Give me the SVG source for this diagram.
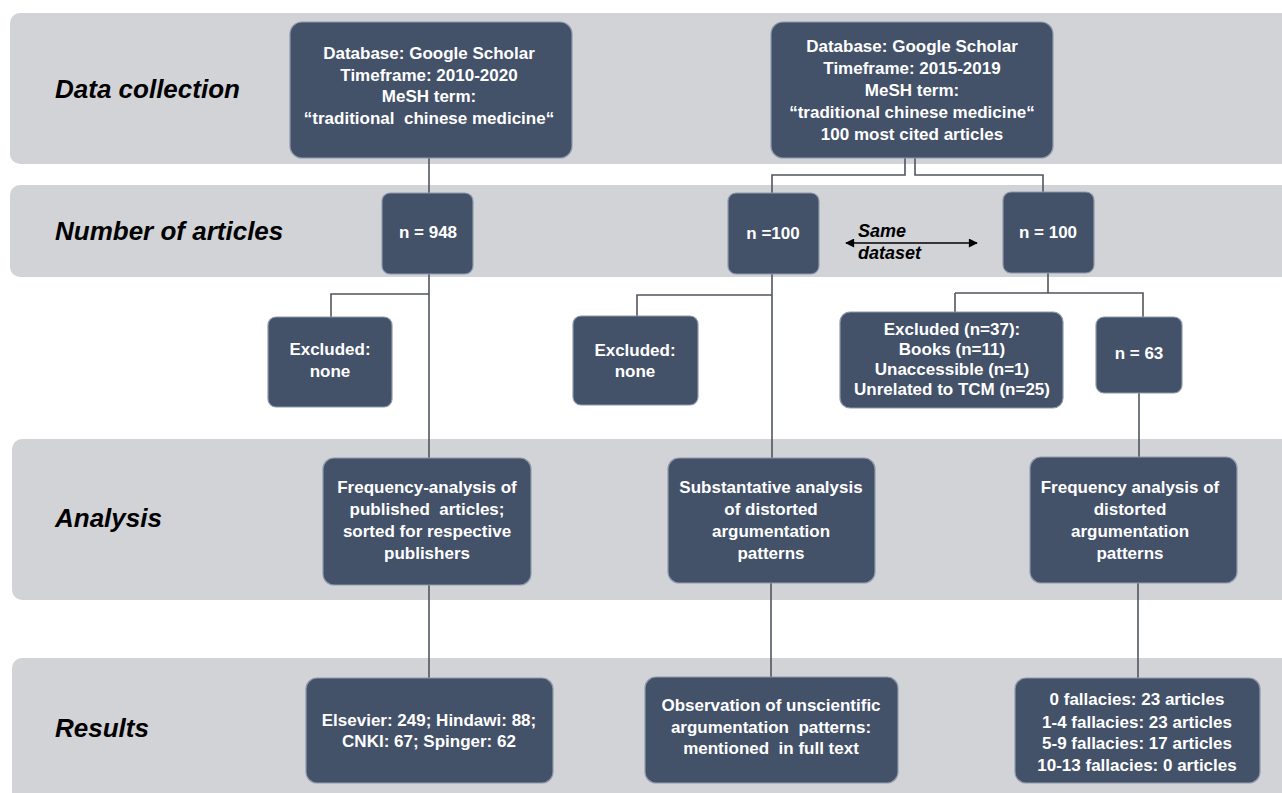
<svg xmlns="http://www.w3.org/2000/svg" width="1282" height="793" viewBox="0 0 1282 793">
<defs>
<style>
.band{fill:#d2d3d6}
.lab{font-family:"Liberation Sans",Arial,sans-serif;font-weight:bold;font-style:italic;font-size:26px;fill:#000}
.node rect{fill:#435169;stroke:#8e9aad;stroke-width:1.2}
.node text{font-family:"Liberation Sans",Arial,sans-serif;font-weight:bold;font-size:17px;fill:#fff;text-anchor:middle}
.con{fill:none;stroke:#50555e;stroke-width:1.6}
.arr{fill:none;stroke:#000;stroke-width:1.6}
.note{font-family:"Liberation Sans",Arial,sans-serif;font-weight:bold;font-style:italic;font-size:18px;fill:#000}
</style>
<marker id="ah" viewBox="0 0 10 10" refX="9" refY="5" markerWidth="10" markerHeight="9" orient="auto-start-reverse" markerUnits="userSpaceOnUse">
<path d="M0,0 L10,5 L0,10 z" fill="#000"/>
</marker>
</defs>
<rect width="1282" height="793" fill="#fff"/>
<g id="bands">
<rect class="band" x="10" y="13" width="1290" height="151" rx="10"/>
<rect class="band" x="10" y="185" width="1290" height="92" rx="10"/>
<rect class="band" x="12" y="439" width="1290" height="161" rx="10"/>
<rect class="band" x="12" y="658" width="1290" height="150" rx="10"/>
<text class="lab" x="55" y="98">Data collection</text>
<text class="lab" x="55" y="240">Number of articles</text>
<text class="lab" x="55" y="527">Analysis</text>
<text class="lab" x="55" y="737">Results</text>
</g>
<g id="connectors">
<path class="con" d="M429,158 V193"/>
<path class="con" d="M429,274 V458"/>
<path class="con" d="M429,294 H331 V317"/>
<path class="con" d="M429,585 V678"/>
<path class="con" d="M905,158 V175 H772 V193"/>
<path class="con" d="M915,158 V175 H1043 V192"/>
<path class="con" d="M772,274 V458"/>
<path class="con" d="M772,295 H637 V316"/>
<path class="con" d="M771,583 V677"/>
<path class="con" d="M1048,273 V293"/>
<path class="con" d="M955,293 H1143 V317"/>
<path class="con" d="M955,293 V312"/>
<path class="con" d="M1139,393 V457"/>
<path class="con" d="M1138,583 V678"/>
<path class="arr" d="M846,243 H977" marker-start="url(#ah)" marker-end="url(#ah)"/>
<text class="note" x="858" y="237">Same</text>
<text class="note" x="858" y="259">dataset</text>
</g>
<g id="db1" class="node">
<rect x="290" y="22" width="282" height="136" rx="12"/>
<text x="429" y="59">Database: Google Scholar</text>
<text x="429" y="81">Timeframe: 2010-2020</text>
<text x="429" y="102">MeSH term:</text>
<text x="429" y="124" xml:space="preserve">“traditional  chinese medicine“</text>
</g>
<g id="db2" class="node">
<rect x="771" y="22" width="282" height="136" rx="12"/>
<text x="912" y="52">Database: Google Scholar</text>
<text x="912" y="74">Timeframe: 2015-2019</text>
<text x="912" y="96">MeSH term:</text>
<text x="912" y="118">“traditional chinese medicine“</text>
<text x="912" y="140">100 most cited articles</text>
</g>
<g id="n948" class="node">
<rect x="382" y="193" width="91" height="81" rx="8"/>
<text x="428" y="238">n = 948</text>
</g>
<g id="n100a" class="node">
<rect x="728" y="193" width="91" height="81" rx="8"/>
<text x="773" y="239">n =100</text>
</g>
<g id="n100b" class="node">
<rect x="1003" y="192" width="91" height="81" rx="8"/>
<text x="1048" y="238">n = 100</text>
</g>
<g id="excl1" class="node">
<rect x="268" y="317" width="124" height="90" rx="8"/>
<text x="330" y="355">Excluded:</text>
<text x="330" y="377">none</text>
</g>
<g id="excl2" class="node">
<rect x="573" y="316" width="125" height="89" rx="8"/>
<text x="635" y="356">Excluded:</text>
<text x="635" y="377">none</text>
</g>
<g id="excl3" class="node">
<rect x="840" y="312" width="223" height="96" rx="10"/>
<text x="952" y="335">Excluded (n=37):</text>
<text x="952" y="355">Books (n=11)</text>
<text x="952" y="375">Unaccessible (n=1)</text>
<text x="952" y="395">Unrelated to TCM (n=25)</text>
</g>
<g id="n63" class="node">
<rect x="1096" y="317" width="86" height="76" rx="8"/>
<text x="1139" y="359">n = 63</text>
</g>
<g id="ana1" class="node">
<rect x="323" y="458" width="208" height="127" rx="11"/>
<text x="427" y="493">Frequency-analysis of</text>
<text x="427" y="515" xml:space="preserve">published  articles;</text>
<text x="427" y="537">sorted for respective</text>
<text x="427" y="559">publishers</text>
</g>
<g id="ana2" class="node">
<rect x="668" y="458" width="207" height="125" rx="11"/>
<text x="771" y="493">Substantative analysis</text>
<text x="771" y="515">of distorted</text>
<text x="771" y="537">argumentation</text>
<text x="771" y="559">patterns</text>
</g>
<g id="ana3" class="node">
<rect x="1030" y="457" width="207" height="126" rx="11"/>
<text x="1130" y="493">Frequency analysis of</text>
<text x="1130" y="515">distorted</text>
<text x="1130" y="537">argumentation</text>
<text x="1130" y="559">patterns</text>
</g>
<g id="res1" class="node">
<rect x="306" y="678" width="247" height="105" rx="11"/>
<text x="429" y="726">Elsevier: 249; Hindawi: 88;</text>
<text x="429" y="747">CNKI: 67; Spinger: 62</text>
</g>
<g id="res2" class="node">
<rect x="645" y="677" width="253" height="106" rx="11"/>
<text x="771" y="711">Observation of unscientific</text>
<text x="771" y="733" xml:space="preserve">argumentation  patterns:</text>
<text x="771" y="754" xml:space="preserve">mentioned  in full text</text>
</g>
<g id="res3" class="node">
<rect x="1015" y="678" width="245" height="105" rx="11"/>
<text x="1137" y="705">0 fallacies: 23 articles</text>
<text x="1137" y="728">1-4 fallacies: 23 articles</text>
<text x="1137" y="749">5-9 fallacies: 17 articles</text>
<text x="1137" y="771">10-13 fallacies: 0 articles</text>
</g>
</svg>
